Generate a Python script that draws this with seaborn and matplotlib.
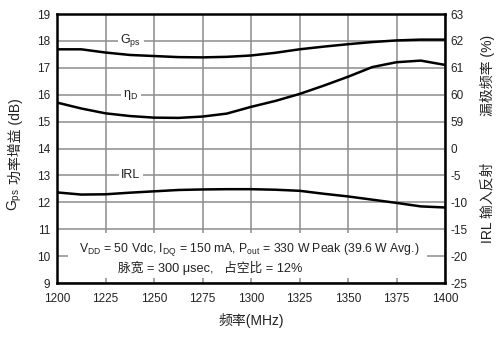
import matplotlib
matplotlib.use("Agg")
import matplotlib.pyplot as plt
import seaborn as sns
import pandas as pd

# ---- data ----
freq = [1200, 1212.5, 1225, 1237.5, 1250, 1262.5, 1275, 1287.5, 1300,
        1312.5, 1325, 1337.5, 1350, 1362.5, 1375, 1387.5, 1400]
gps = [17.69, 17.69, 17.57, 17.48, 17.44, 17.40, 17.39, 17.41, 17.46,
       17.56, 17.69, 17.79, 17.88, 17.96, 18.02, 18.05, 18.05]
eta_d = [15.71, 15.49, 15.31, 15.21, 15.15, 15.14, 15.19, 15.30, 15.55,
         15.77, 16.03, 16.34, 16.67, 17.03, 17.21, 17.27, 17.11]
irl = [12.37, 12.29, 12.30, 12.36, 12.41, 12.46, 12.48, 12.49, 12.49,
       12.47, 12.43, 12.32, 12.22, 12.10, 11.98, 11.85, 11.81]

x_ticks = [1200, 1225, 1250, 1275, 1300, 1325, 1350, 1375, 1400]
left_ticks = [9, 10, 11, 12, 13, 14, 15, 16, 17, 18, 19]
right_labels = ["-25", "-20", "-15", "-10", "-5", "0", "59", "60", "61", "62", "63"]

sns.set_style("white")
plt.rcParams["font.family"] = ["Liberation Sans", "Noto Sans CJK SC", "DejaVu Sans"]
plt.rcParams["mathtext.fontset"] = "custom"
plt.rcParams["mathtext.rm"] = "Liberation Sans"
plt.rcParams["mathtext.it"] = "Liberation Sans:italic"
plt.rcParams["mathtext.bf"] = "Liberation Sans:bold"
plt.rcParams["mathtext.default"] = "regular"

fig = plt.figure(figsize=(5.01, 3.39), dpi=100)
ax = fig.add_axes([0.1138, 0.165, 0.7745, 0.7935])

df = pd.DataFrame({
    "freq": freq * 3,
    "value": gps + eta_d + irl,
    "series": ["Gps"] * len(freq) + ["eta"] * len(freq) + ["IRL"] * len(freq),
})
sns.lineplot(data=df, x="freq", y="value", hue="series", units="series",
             estimator=None,
             palette={"Gps": "black", "eta": "black", "IRL": "black"},
             linewidth=1.8, legend=False, ax=ax, zorder=3)

ax.set_xlim(1200, 1400)
ax.set_ylim(9, 19)
ax.set_xticks(x_ticks)
ax.set_yticks(left_ticks)
ax.set_axisbelow(True)
ax.grid(True, color="#8c8c8c", linewidth=1.1)
ax.tick_params(axis="both", length=0, labelsize=8.5, colors="#222222")
ax.tick_params(axis="x", pad=7)
ax.tick_params(axis="y", pad=5)
for s in ax.spines.values():
    s.set_visible(True)
    s.set_color("black")
    s.set_linewidth(1.8)
ax.set_xlabel("频率(MHz)", fontsize=10, labelpad=6, color="#222222")
ax.set_ylabel("")

# white panel behind the condition text
ax.axhspan(9.2, 10.87, xmin=0.028, xmax=0.954, color="white", zorder=1, lw=0)
ax.text(1299, 10.24, r"V$_{DD}$ = 50 Vdc, I$_{DQ}$ = 150 mA, P$_{out}$ = 330 W Peak (39.6 W Avg.)",
        ha="center", va="center", fontsize=8.8, color="#222222", zorder=4)
ax.text(1279, 9.57, "脉宽 = 300 μsec,   占空比 = 12%",
        ha="center", va="center", fontsize=9.2, color="#222222", zorder=4)

# curve labels
box = dict(facecolor="white", edgecolor="none", pad=1.8)
ax.text(1238, 18.0, r"G$_{ps}$", ha="center", va="center", fontsize=9,
        color="#222222", bbox=box, zorder=4)
ax.text(1238, 16.0, r"η$_{D}$", ha="center", va="center", fontsize=9,
        color="#222222", bbox=box, zorder=4)
ax.text(1238, 13.0, "IRL", ha="center", va="center", fontsize=9,
        color="#222222", bbox=box, zorder=4)

# right axis
ax2 = ax.twinx()
ax2.set_ylim(9, 19)
ax2.set_yticks(left_ticks)
ax2.set_yticklabels(right_labels)
ax2.tick_params(axis="y", length=0, labelsize=8.5, pad=4, colors="#222222")
ax2.grid(False)
for s in ax2.spines.values():
    s.set_visible(False)

# axis titles
fig.text(0.030, 1 - 188 / 339, r"G$_{ps}$", rotation=90, ha="center", va="top",
         fontsize=10, color="#222222")
fig.text(0.030, 1 - 184 / 339, "功率增益 (dB)", rotation=90, ha="center", va="bottom",
         fontsize=10, color="#222222")
fig.text(0.973, 1 - 75 / 339, "漏极频率 (%)", rotation=90, ha="center", va="center",
         fontsize=10, color="#222222")
fig.text(0.973, 1 - 203 / 339, "IRL 输入反射", rotation=90, ha="center", va="center",
         fontsize=10, color="#222222")

fig.savefig("out.png", dpi=100)
